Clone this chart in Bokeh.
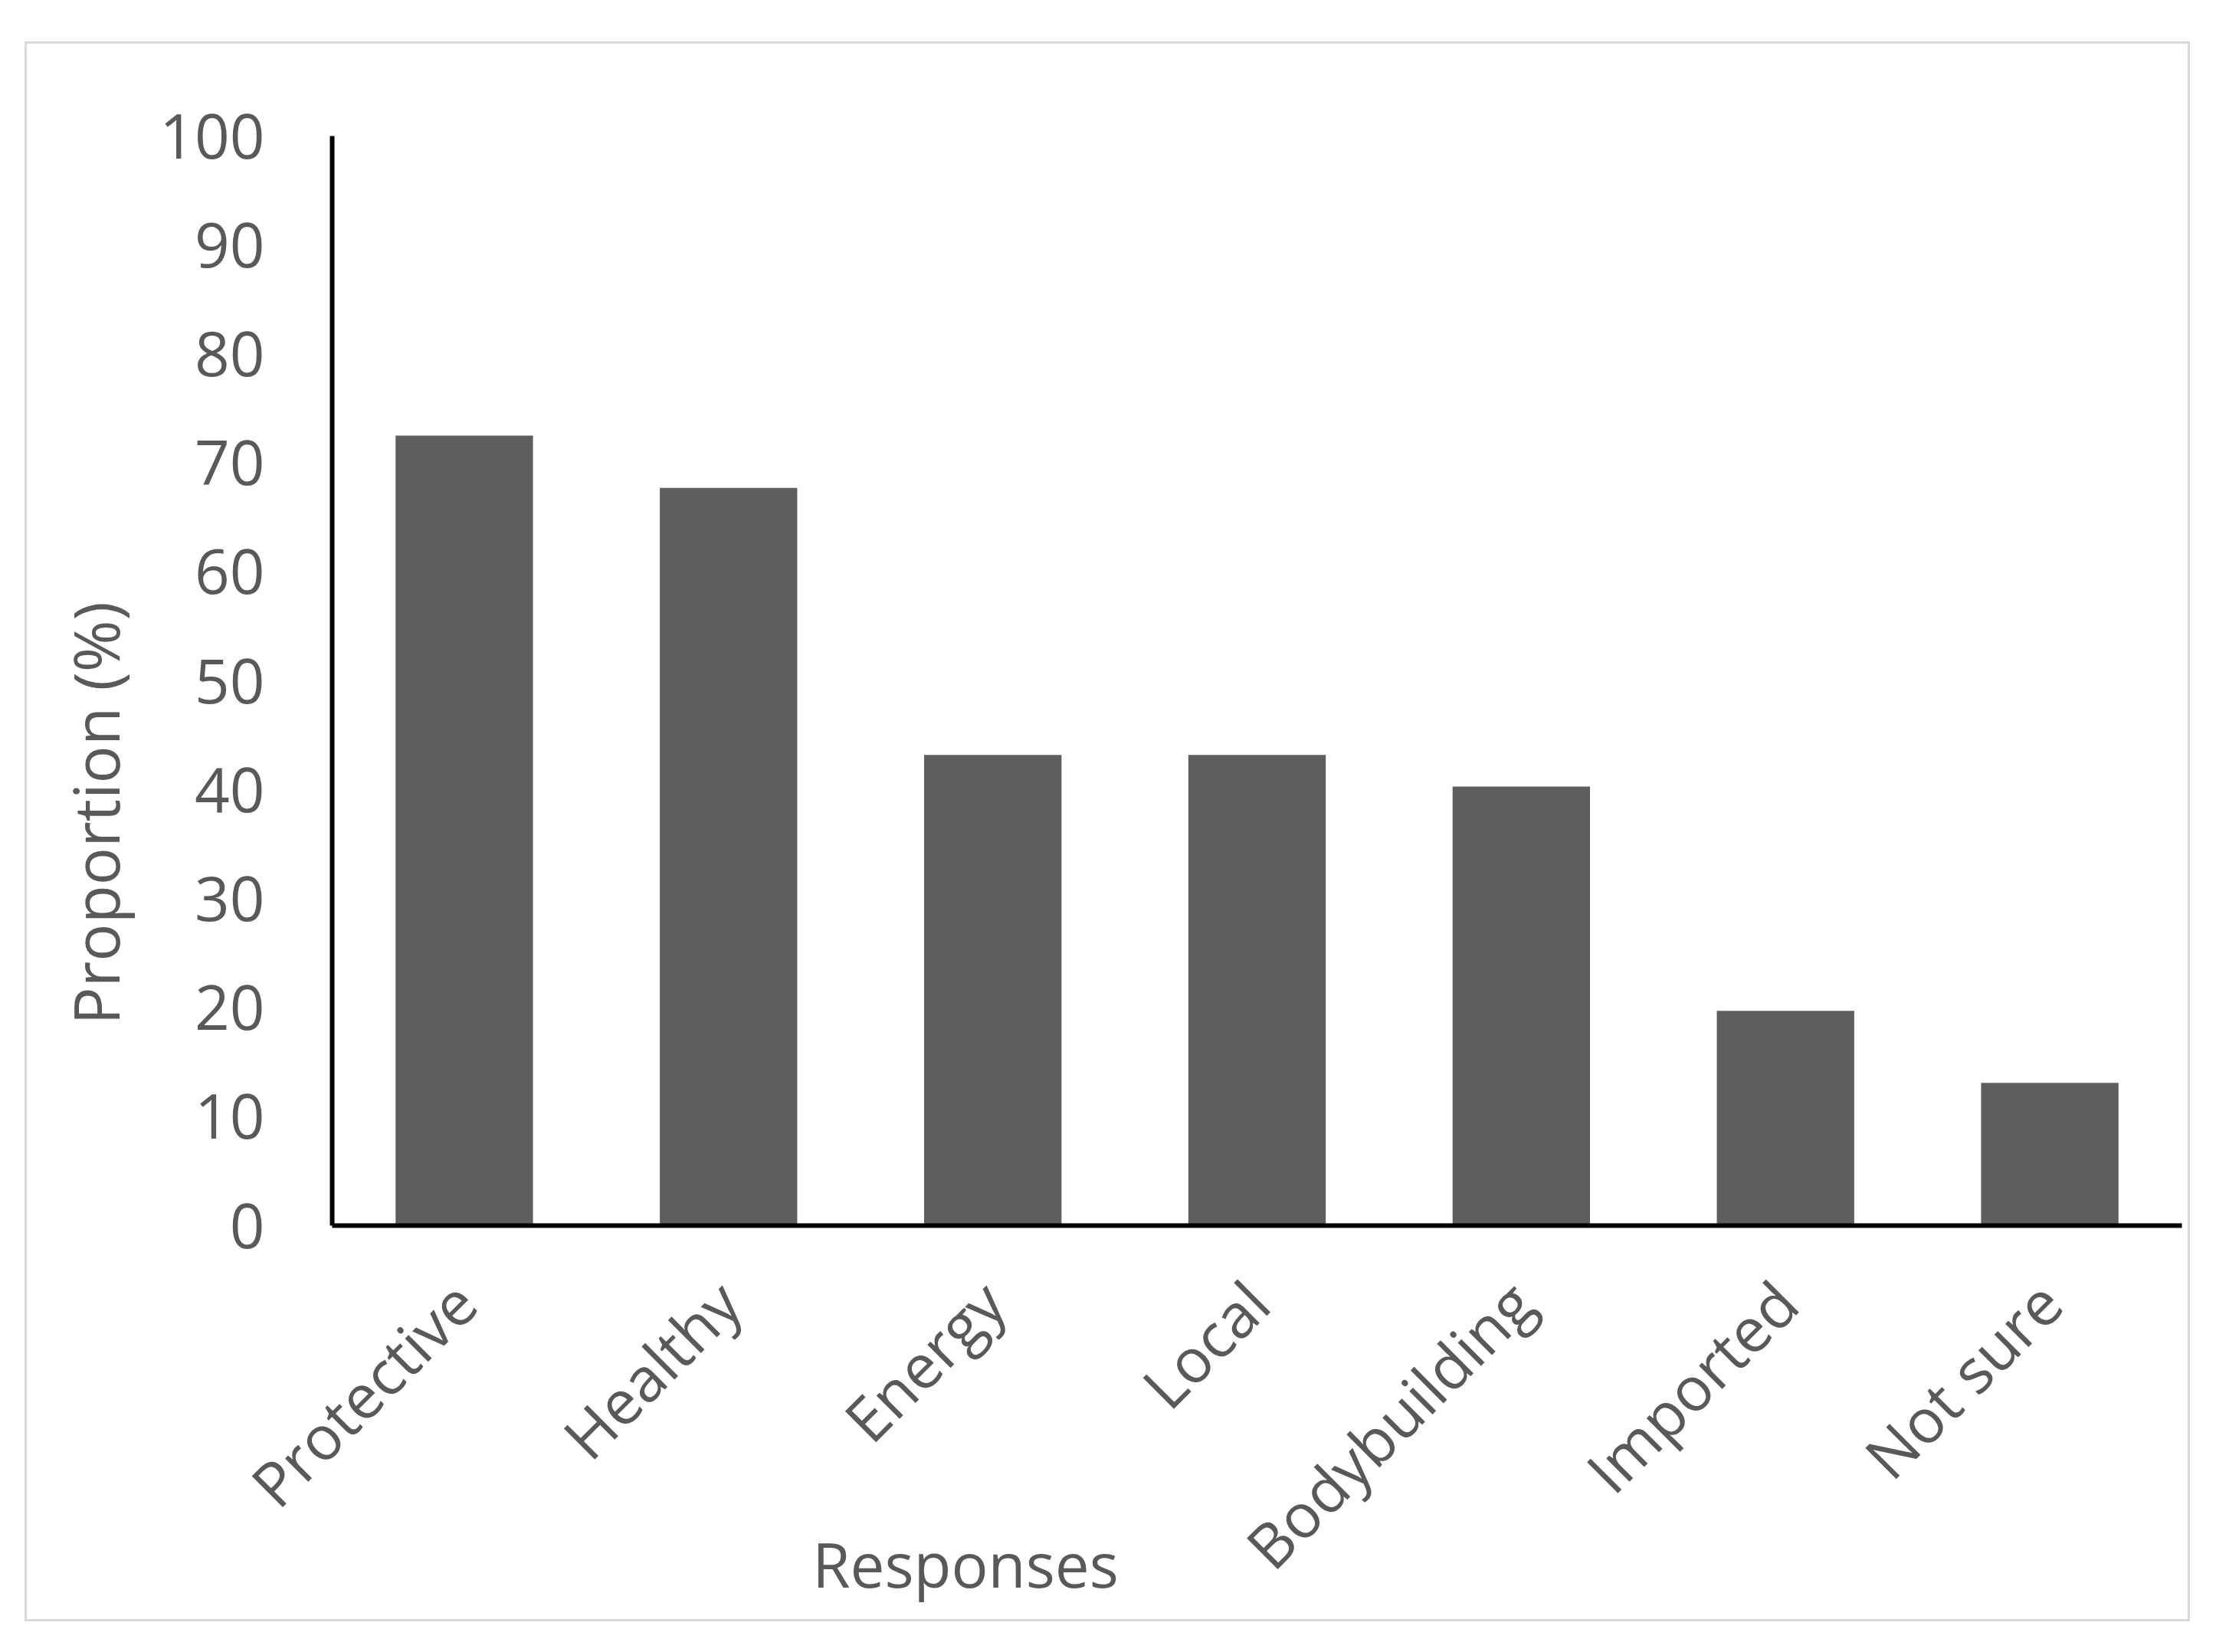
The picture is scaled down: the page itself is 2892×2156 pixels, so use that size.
import math
from bokeh.plotting import figure
from bokeh.models import Range1d, FactorRange, FixedTicker, Title, ColumnDataSource, Div
from bokeh.layouts import column
from bokeh.embed import file_html
from bokeh.resources import INLINE

categories = ["Protective", "Healthy", "Energy", "Local", "Bodybuilding", "Imported", "Not sure"]
values = [72.5, 67.7, 43.2, 43.2, 40.3, 19.7, 13.1]
y_ticks = [0, 10, 20, 30, 40, 50, 60, 70, 80, 90, 100]
x_title = "Responses"
y_title = "Proportion (%)"

FONT = "Open Sans"
TXT = "#595959"

src = ColumnDataSource(dict(cat=categories, val=values))

p = figure(
    x_range=FactorRange(*categories, range_padding=0),
    y_range=Range1d(0, 100),
    width=2820, height=2056,
    output_backend="svg", toolbar_location=None,
    min_border_left=398, min_border_right=8,
    min_border_top=120, min_border_bottom=514,
)
p.margin = (57, 0, 0, 35)
p.styles = {"outline": "3px solid #d9d9d9"}

p.vbar(x="cat", top="val", width=0.52, source=src, fill_color="#5e5e5e", line_color=None)

p.grid.visible = False
p.outline_line_color = None
p.background_fill_color = "white"
p.border_fill_color = "white"

for ax in (p.xaxis[0], p.yaxis[0]):
    ax.axis_line_color = "black"
    ax.axis_line_width = 6
    ax.major_tick_line_color = None
    ax.minor_tick_line_color = None
    ax.major_tick_out = 0
    ax.major_tick_in = 0
    ax.major_label_text_font = FONT
    ax.major_label_text_font_size = "80px"
    ax.major_label_text_color = TXT

p.yaxis[0].ticker = FixedTicker(ticks=y_ticks)
p.yaxis[0].major_label_standoff = 88
p.xaxis[0].major_label_orientation = math.pi / 4
p.xaxis[0].major_label_standoff = 86

yt = Title(text=y_title, align="left", offset=262, standoff=51,
           text_font=FONT, text_font_size="82px", text_font_style="normal", text_color=TXT)
p.add_layout(yt, "left")

xdiv = Div(text=x_title, width=420, height=100, margin=(-122, 0, 0, 1050),
           styles={"font-family": FONT, "font-size": "80px", "color": TXT,
                   "text-align": "center", "line-height": "100px", "white-space": "nowrap"})

layout = column(p, xdiv)
open("out.html", "w").write(file_html(layout, INLINE))
